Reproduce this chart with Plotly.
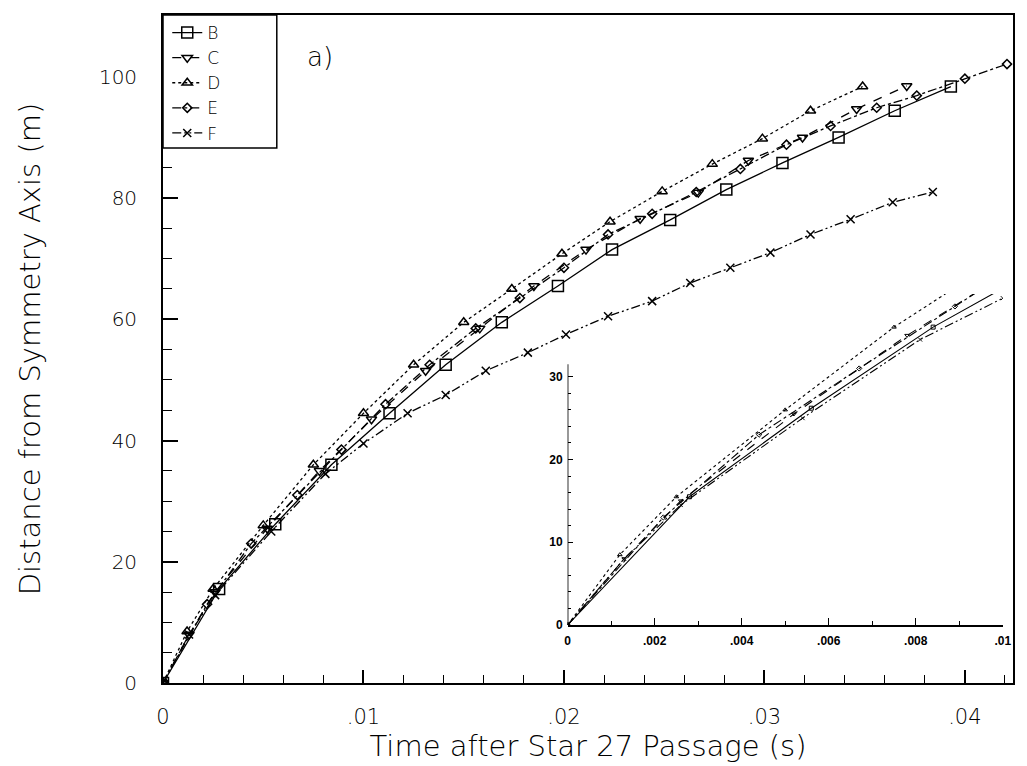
import plotly.graph_objects as go

# ---- data (time in s, distance in m) ----
b_t = [0, 0.0028, 0.0056, 0.0084, 0.0113, 0.0141, 0.0169, 0.0197, 0.0224, 0.0253, 0.0281, 0.0309, 0.0337, 0.0365, 0.0393]
b_d = [0, 15.5, 26.2, 36.0, 44.5, 52.5, 59.5, 65.5, 71.5, 76.4, 81.4, 85.8, 90.0, 94.4, 98.4]

c_t = [0, 0.0013, 0.0026, 0.0052, 0.0078, 0.0104, 0.0131, 0.0158, 0.0185, 0.0211, 0.0238, 0.0267, 0.0292, 0.0319, 0.0346, 0.0371]
c_d = [0, 8.0, 15.0, 25.5, 35.0, 43.5, 51.5, 58.5, 65.5, 71.5, 76.6, 80.9, 86.2, 90.0, 94.7, 98.5]

d_t = [0, 0.0012, 0.0025, 0.0050, 0.0075, 0.0100, 0.0125, 0.0150, 0.0174, 0.0199, 0.0223, 0.0249, 0.0274, 0.0299, 0.0323, 0.0349]
d_d = [0, 8.5, 15.5, 26.0, 36.0, 44.5, 52.5, 59.5, 65.0, 70.8, 76.1, 81.1, 85.6, 89.8, 94.4, 98.4]

e_t = [0, 0.0022, 0.0044, 0.0067, 0.0089, 0.0111, 0.0133, 0.0156, 0.0178, 0.0200, 0.0222, 0.0244, 0.0266, 0.0288, 0.0311, 0.0333, 0.0356, 0.0376, 0.0400, 0.0421]
e_d = [0, 13.0, 23.0, 31.0, 38.5, 46.0, 52.5, 58.5, 63.5, 68.5, 74.0, 77.4, 81.0, 84.8, 88.8, 91.9, 94.9, 96.9, 99.7, 102.1]

f_t = [0, 0.0013, 0.0026, 0.0054, 0.0081, 0.0100, 0.0122, 0.0141, 0.0161, 0.0182, 0.0201, 0.0222, 0.0244, 0.0263, 0.0283, 0.0303, 0.0323, 0.0343, 0.0364, 0.0384]
f_d = [0, 8.0, 14.5, 25.0, 34.5, 39.5, 44.5, 47.5, 51.5, 54.5, 57.5, 60.5, 63.0, 66.0, 68.5, 71.0, 74.0, 76.5, 79.3, 81.0]

names = ["B", "C", "D", "E", "F"]
x_tick_vals = [0, 0.01, 0.02, 0.03, 0.04]
x_tick_text = ["0", ".01", ".02", ".03", ".04"]
y_tick_vals = [0, 20, 40, 60, 80, 100]
inset_x_vals = [0, 0.002, 0.004, 0.006, 0.008, 0.01]
inset_x_text = ["0", ".002", ".004", ".006", ".008", ".01"]
inset_y_vals = [0, 10, 20, 30]

FONT = "DejaVu Sans"
W = 200

styles = [
    dict(symbol="square-open", size=11, dash="solid"),
    dict(symbol="triangle-down-open", size=9, dash="dash"),
    dict(symbol="triangle-up-open", size=9, dash="dot"),
    dict(symbol="diamond-open", size=7, dash="dashdot"),
    dict(symbol="x-thin-open", size=8, dash="9px,3px,2px,3px,2px,3px"),
]
data = [(b_t, b_d), (c_t, c_d), (d_t, d_d), (e_t, e_d), (f_t, f_d)]

fig = go.Figure()
for name, (t, d), st in zip(names, data, styles):
    fig.add_trace(go.Scatter(
        x=t, y=d, name=name, mode="lines+markers",
        line=dict(color="black", width=1.3, dash=st["dash"]),
        marker=dict(symbol=st["symbol"], size=st["size"], color="black",
                    line=dict(color="black", width=1.5)),
        xaxis="x", yaxis="y"))
for name, (t, d), st in zip(names, data, styles):
    fig.add_trace(go.Scatter(
        x=t, y=d, name=name, mode="lines+markers", showlegend=False,
        line=dict(color="black", width=1.1, dash=st["dash"]),
        marker=dict(symbol=st["symbol"], size=4, color="black",
                    line=dict(color="black", width=1)),
        xaxis="x2", yaxis="y2"))

fig.update_layout(
    width=1027, height=766,
    margin=dict(l=163, r=5, t=15, b=83),
    paper_bgcolor="white", plot_bgcolor="rgba(0,0,0,0)",
    font=dict(family=FONT, color="black", weight=W),
    showlegend=True,
    legend=dict(x=0.005, y=1.0, xanchor="left", yanchor="top",
                borderwidth=0, bgcolor="rgba(0,0,0,0)",
                font=dict(family=FONT, size=17, weight=W),
                itemsizing="trace"),
    xaxis=dict(range=[0, 0.0424], domain=[0, 1],
               tickvals=x_tick_vals, ticktext=x_tick_text,
               ticks="inside", ticklen=13, tickwidth=1.5, tickcolor="black",
               minor=dict(dtick=0.002, tick0=0, ticks="inside", ticklen=8, tickwidth=1.3, tickcolor="black"),
               showline=True, linecolor="black", linewidth=1.8, mirror=True,
               showgrid=False, zeroline=False,
               tickfont=dict(size=21, family=FONT, weight=W), ticklabelstandoff=14,
               title=dict(text="Time after Star 27 Passage (s)", font=dict(size=29, family=FONT, weight=W), standoff=4)),
    yaxis=dict(range=[0, 110.2], domain=[0, 1],
               tickvals=y_tick_vals,
               ticks="inside", ticklen=15, tickwidth=1.5, tickcolor="black",
               minor=dict(dtick=5, tick0=0, ticks="inside", ticklen=9, tickwidth=1.3, tickcolor="black"),
               showline=True, linecolor="black", linewidth=1.8, mirror=True,
               showgrid=False, zeroline=False,
               tickfont=dict(size=20, family=FONT, weight=W), ticklabelstandoff=20,
               title=dict(text="Distance from Symmetry Axis (m)", font=dict(size=29, family=FONT, weight=W), standoff=50)),
    xaxis2=dict(range=[0, 0.01], domain=[0.476, 0.988], anchor="y2",
                tickvals=inset_x_vals, ticktext=inset_x_text,
                ticks="inside", ticklen=7, tickwidth=1.3, tickcolor="black",
                minor=dict(dtick=0.001, tick0=0, ticks="inside", ticklen=4, tickwidth=1, tickcolor="black"),
                showline=True, linecolor="black", linewidth=1.6,
                showgrid=False, zeroline=False,
                tickfont=dict(size=12, family="Liberation Sans", weight="bold"), ticklabelstandoff=4),
    yaxis2=dict(range=[0, 40], domain=[0.0868, 0.5823], anchor="x2",
                tickvals=inset_y_vals,
                ticks="inside", ticklen=5, tickwidth=1.3, tickcolor="black",
                minor=dict(tickvals=[2, 4, 6, 8, 12, 14, 16, 18, 22, 24, 26, 28], ticks="inside", ticklen=3, tickwidth=1, tickcolor="black"),
                showline=False, showgrid=False, zeroline=False,
                tickfont=dict(size=12, family="Liberation Sans", weight="bold"), ticklabelstandoff=4),
)

# legend frame
fig.add_shape(type="rect", xref="paper", yref="paper", x0=0, x1=(278 - 163) / 859,
              y0=(683 - 148) / 668, y1=1, layer="above",
              line=dict(color="black", width=1.5), fillcolor="white")

# inset vertical axis line (only up to the top tick region)
fig.add_shape(type="line", xref="x2", yref="y2", x0=0, x1=0, y0=0, y1=31.5,
              line=dict(color="black", width=1.6))

fig.add_annotation(text="a)", xref="paper", yref="paper", x=(322 - 163) / 859, y=(683 - 57) / 668,
                   showarrow=False, font=dict(size=26, family=FONT), xanchor="center", yanchor="middle")

fig.write_html("out.html")
